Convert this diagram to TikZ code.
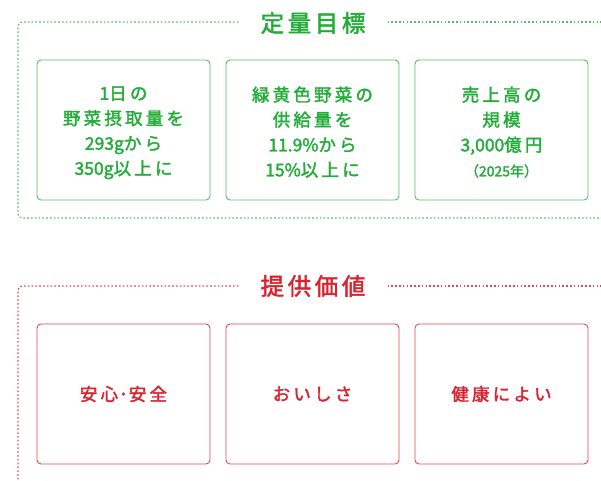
\documentclass[tikz,border=0pt]{standalone}
\usepackage{fontspec}
\setmainfont{Noto Sans CJK JP}
\newfontfamily\boxfont{Noto Sans CJK JP}[FakeBold=2]
% spacing between Japanese characters
\makeatletter
\newXeTeXintercharclass\jpclass
\count@="3040 \loop\ifnum\count@<"3100 \XeTeXcharclass\count@=\jpclass \advance\count@ by 1 \repeat
\count@="4E00 \loop\ifnum\count@<"A000 \XeTeXcharclass\count@=\jpclass \advance\count@ by 1 \repeat
\makeatother
\def\jpgap{3pt}
\XeTeXinterchartoks\jpclass\jpclass={\kern\jpgap}
\XeTeXinterchartokenstate=1
\newcommand\lifted{\rule{0pt}{19pt}}
\definecolor{goalgreen}{RGB}{34,172,56}
\definecolor{goalline}{RGB}{80,190,100}
\definecolor{valuered}{RGB}{218,35,48}
\definecolor{valueline}{RGB}{226,70,80}
\begin{document}
\begin{tikzpicture}[x=1pt,y=-1pt,
  basebox/.style={line width=0.9pt,rounded corners=4pt,minimum width=173pt,minimum height=140pt,
    align=center,font=\boxfont\fontsize{17.5}{25}\selectfont\def\jpgap{3.2pt}},
  goalbox/.style={basebox,draw=goalline,text=goalgreen},
  valuebox/.style={basebox,draw=valueline,text=valuered},
  goaldots/.style={draw=goalline,line width=1.2pt,dash pattern=on 1.6pt off 2.2pt,rounded corners=4pt},
  valuedots/.style={goaldots,draw=valueline},
  goaltitle/.style={text=goalgreen,inner sep=0pt,font=\boxfont\fontsize{23.5}{28}\selectfont\def\jpgap{3.6pt}},
  valuetitle/.style={goaltitle,text=valuered}]
\useasboundingbox (0,0) rectangle (601,480);

% Titles
\node [goaltitle] (goalt) at (313,23) {定量目標};
\node [valuetitle] (valuet) at (313,286) {提供価値};

% Green frame
\draw [goaldots] ([xshift=-22pt]goalt.west |- 0,22) -- (18,22) -- (18,218) -- (601,218);
\draw [goaldots] ([xshift=22pt]goalt.east |- 0,22) -- (601,22);

% Red frame
\draw [valuedots] ([xshift=-22pt]valuet.west |- 0,286) -- (18,286) -- (18,490);
\draw [valuedots] ([xshift=22pt]valuet.east |- 0,286) -- (601,286);

% Goal boxes
\node [goalbox] (g1) at (123.5,130) {\lifted 1日の\\野菜摂取量を\\293gから\\350g以上に};
\node [goalbox] (g2) at (312.5,130) {\lifted 緑黄色野菜の\\供給量を\\11.9\%から\\15\%以上に};
\node [goalbox] (g3) at (501.5,130) {\lifted 売上高の\\規模\\3,000億円\\{\fontsize{14}{25}\selectfont （2025年）}};

% Value boxes
\node [valuebox] (r1) at (123.5,394) {安心\kern1pt ･\kern1pt 安全};
\node [valuebox] (r2) at (312.5,394) {おいしさ};
\node [valuebox] (r3) at (501.5,394) {健康によい};

\end{tikzpicture}
\end{document}
